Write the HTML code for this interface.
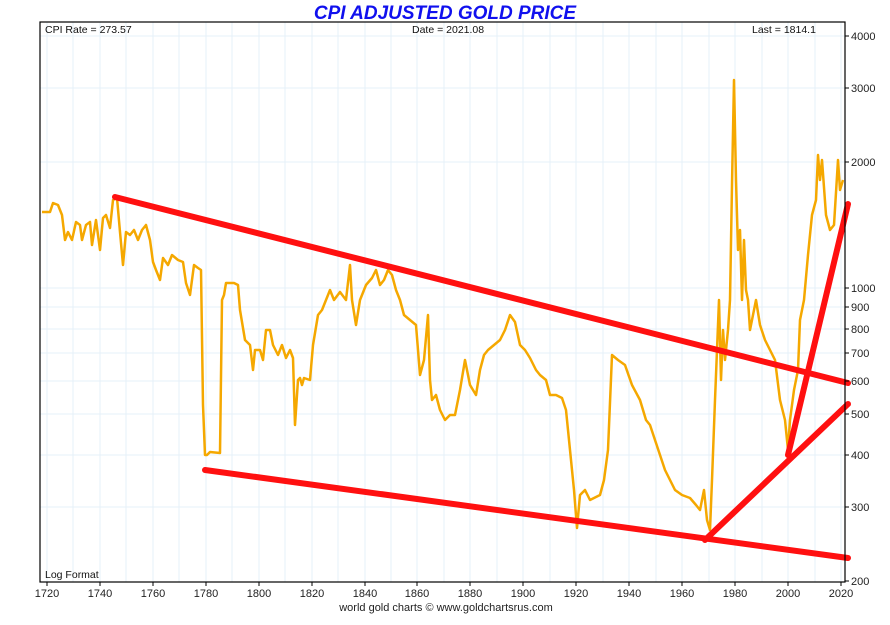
<!DOCTYPE html><html><head><style>body{margin:0;background:#fff}svg{display:block;font-family:"Liberation Sans",sans-serif}</style></head><body>
<svg width="890" height="625" xmlns="http://www.w3.org/2000/svg">
<rect width="890" height="625" fill="#fff"/>
<g stroke="#e6f0f8" stroke-width="1">
<line x1="47" y1="22" x2="47" y2="582"/><line x1="73" y1="22" x2="73" y2="582"/><line x1="100" y1="22" x2="100" y2="582"/><line x1="126" y1="22" x2="126" y2="582"/><line x1="153" y1="22" x2="153" y2="582"/><line x1="179" y1="22" x2="179" y2="582"/><line x1="206" y1="22" x2="206" y2="582"/><line x1="232" y1="22" x2="232" y2="582"/><line x1="259" y1="22" x2="259" y2="582"/><line x1="285" y1="22" x2="285" y2="582"/><line x1="312" y1="22" x2="312" y2="582"/><line x1="338" y1="22" x2="338" y2="582"/><line x1="365" y1="22" x2="365" y2="582"/><line x1="391" y1="22" x2="391" y2="582"/><line x1="417" y1="22" x2="417" y2="582"/><line x1="444" y1="22" x2="444" y2="582"/><line x1="470" y1="22" x2="470" y2="582"/><line x1="497" y1="22" x2="497" y2="582"/><line x1="523" y1="22" x2="523" y2="582"/><line x1="550" y1="22" x2="550" y2="582"/><line x1="576" y1="22" x2="576" y2="582"/><line x1="603" y1="22" x2="603" y2="582"/><line x1="629" y1="22" x2="629" y2="582"/><line x1="656" y1="22" x2="656" y2="582"/><line x1="682" y1="22" x2="682" y2="582"/><line x1="709" y1="22" x2="709" y2="582"/><line x1="735" y1="22" x2="735" y2="582"/><line x1="762" y1="22" x2="762" y2="582"/><line x1="788" y1="22" x2="788" y2="582"/><line x1="815" y1="22" x2="815" y2="582"/><line x1="841" y1="22" x2="841" y2="582"/>
<line x1="40" y1="36" x2="845" y2="36"/><line x1="40" y1="88" x2="845" y2="88"/><line x1="40" y1="162" x2="845" y2="162"/><line x1="40" y1="288" x2="845" y2="288"/><line x1="40" y1="307" x2="845" y2="307"/><line x1="40" y1="329" x2="845" y2="329"/><line x1="40" y1="353" x2="845" y2="353"/><line x1="40" y1="381" x2="845" y2="381"/><line x1="40" y1="414" x2="845" y2="414"/><line x1="40" y1="455" x2="845" y2="455"/><line x1="40" y1="507" x2="845" y2="507"/>
</g>
<polyline fill="none" stroke="#f5a800" stroke-width="2.5" stroke-linejoin="round" points="42,212 50,212 53,203 58,205 62,215 65,240 68,232 72,240 76,222 80,225 82,240 86,225 90,222 92,245 96,220 100,250 103,218 106,215 110,228 113,200 117,198 120,232 123,265 126,232 130,235 134,230 138,240 142,230 146,225 150,240 153,262 156,270 160,280 163,258 168,265 172,255 178,260 183,262 186,283 190,295 194,265 198,268 201,270 203,405 205,455 207,455 210,452 220,453 222,300 224,295 226,283 234,283 238,285 240,310 245,340 250,345 253,370 255,350 260,350 263,360 266,330 270,330 273,345 278,355 282,345 286,358 290,350 293,358 295,425 298,380 300,378 302,385 304,378 310,380 313,345 318,315 322,310 326,300 330,290 334,300 340,292 346,300 350,265 352,300 356,325 360,300 366,285 372,278 376,270 380,285 384,280 388,270 392,275 396,290 400,300 404,315 410,320 416,325 420,375 424,360 428,315 430,380 432,400 436,395 440,410 445,420 450,415 455,415 460,390 465,360 470,385 476,395 480,370 484,355 488,350 494,345 500,340 505,330 510,315 515,322 520,345 525,350 530,358 536,370 540,375 546,380 550,395 556,395 562,398 566,410 570,450 574,490 577,528 580,495 585,490 590,500 600,495 604,480 608,450 612,355 618,360 625,365 632,385 640,400 646,420 650,425 655,440 660,455 665,470 670,480 675,490 682,495 690,498 696,505 700,510 704,490 707,520 710,530 712,480 715,400 717,350 719,300 721,380 723,330 725,360 728,330 730,300 732,185 734,80 736,180 738,250 740,230 742,300 744,240 746,290 748,300 750,330 752,320 756,300 760,325 765,340 770,350 775,360 780,400 785,420 788,450 790,420 794,390 798,370 800,320 804,300 808,255 812,215 816,200 818,155 820,180 822,160 826,215 830,230 834,225 838,160 840,190 843,180"/>
<g stroke="#ff1010" stroke-width="6" stroke-linecap="round">
<line x1="115" y1="197" x2="848" y2="383"/><line x1="205" y1="470" x2="848" y2="558"/><line x1="705" y1="540" x2="848" y2="404"/><line x1="788" y1="455" x2="848" y2="204"/>
</g>
<rect x="40" y="22" width="805" height="560" fill="none" stroke="#000" stroke-width="1.2"/>
<g stroke="#000"><line x1="845" y1="36" x2="849" y2="36"/><line x1="845" y1="88" x2="849" y2="88"/><line x1="845" y1="162" x2="849" y2="162"/><line x1="845" y1="288" x2="849" y2="288"/><line x1="845" y1="307" x2="849" y2="307"/><line x1="845" y1="329" x2="849" y2="329"/><line x1="845" y1="353" x2="849" y2="353"/><line x1="845" y1="381" x2="849" y2="381"/><line x1="845" y1="414" x2="849" y2="414"/><line x1="845" y1="455" x2="849" y2="455"/><line x1="845" y1="507" x2="849" y2="507"/><line x1="845" y1="581" x2="849" y2="581"/>
<line x1="47" y1="582" x2="47" y2="586"/><line x1="100" y1="582" x2="100" y2="586"/><line x1="153" y1="582" x2="153" y2="586"/><line x1="206" y1="582" x2="206" y2="586"/><line x1="259" y1="582" x2="259" y2="586"/><line x1="312" y1="582" x2="312" y2="586"/><line x1="365" y1="582" x2="365" y2="586"/><line x1="417" y1="582" x2="417" y2="586"/><line x1="470" y1="582" x2="470" y2="586"/><line x1="523" y1="582" x2="523" y2="586"/><line x1="576" y1="582" x2="576" y2="586"/><line x1="629" y1="582" x2="629" y2="586"/><line x1="682" y1="582" x2="682" y2="586"/><line x1="735" y1="582" x2="735" y2="586"/><line x1="788" y1="582" x2="788" y2="586"/><line x1="841" y1="582" x2="841" y2="586"/></g>
<g font-size="11" fill="#222">
<text x="851" y="40">4000</text><text x="851" y="92">3000</text><text x="851" y="166">2000</text><text x="851" y="292">1000</text><text x="851" y="311">900</text><text x="851" y="333">800</text><text x="851" y="357">700</text><text x="851" y="385">600</text><text x="851" y="418">500</text><text x="851" y="459">400</text><text x="851" y="511">300</text><text x="851" y="585">200</text>
</g>
<g font-size="11" fill="#222" text-anchor="middle">
<text x="47" y="597">1720</text><text x="100" y="597">1740</text><text x="153" y="597">1760</text><text x="206" y="597">1780</text><text x="259" y="597">1800</text><text x="312" y="597">1820</text><text x="365" y="597">1840</text><text x="417" y="597">1860</text><text x="470" y="597">1880</text><text x="523" y="597">1900</text><text x="576" y="597">1920</text><text x="629" y="597">1940</text><text x="682" y="597">1960</text><text x="735" y="597">1980</text><text x="788" y="597">2000</text><text x="841" y="597">2020</text>
<text x="446" y="611">world gold charts © www.goldchartsrus.com</text>
</g>
<g font-size="10.5" fill="#111">
<text x="45" y="33">CPI Rate = 273.57</text><text x="412" y="33">Date = 2021.08</text><text x="752" y="33">Last = 1814.1</text><text x="45" y="578">Log Format</text>
</g>
<text x="445" y="19" text-anchor="middle" font-size="19" font-weight="bold" font-style="italic" fill="#1010ee">CPI ADJUSTED GOLD PRICE</text>
</svg></body></html>
